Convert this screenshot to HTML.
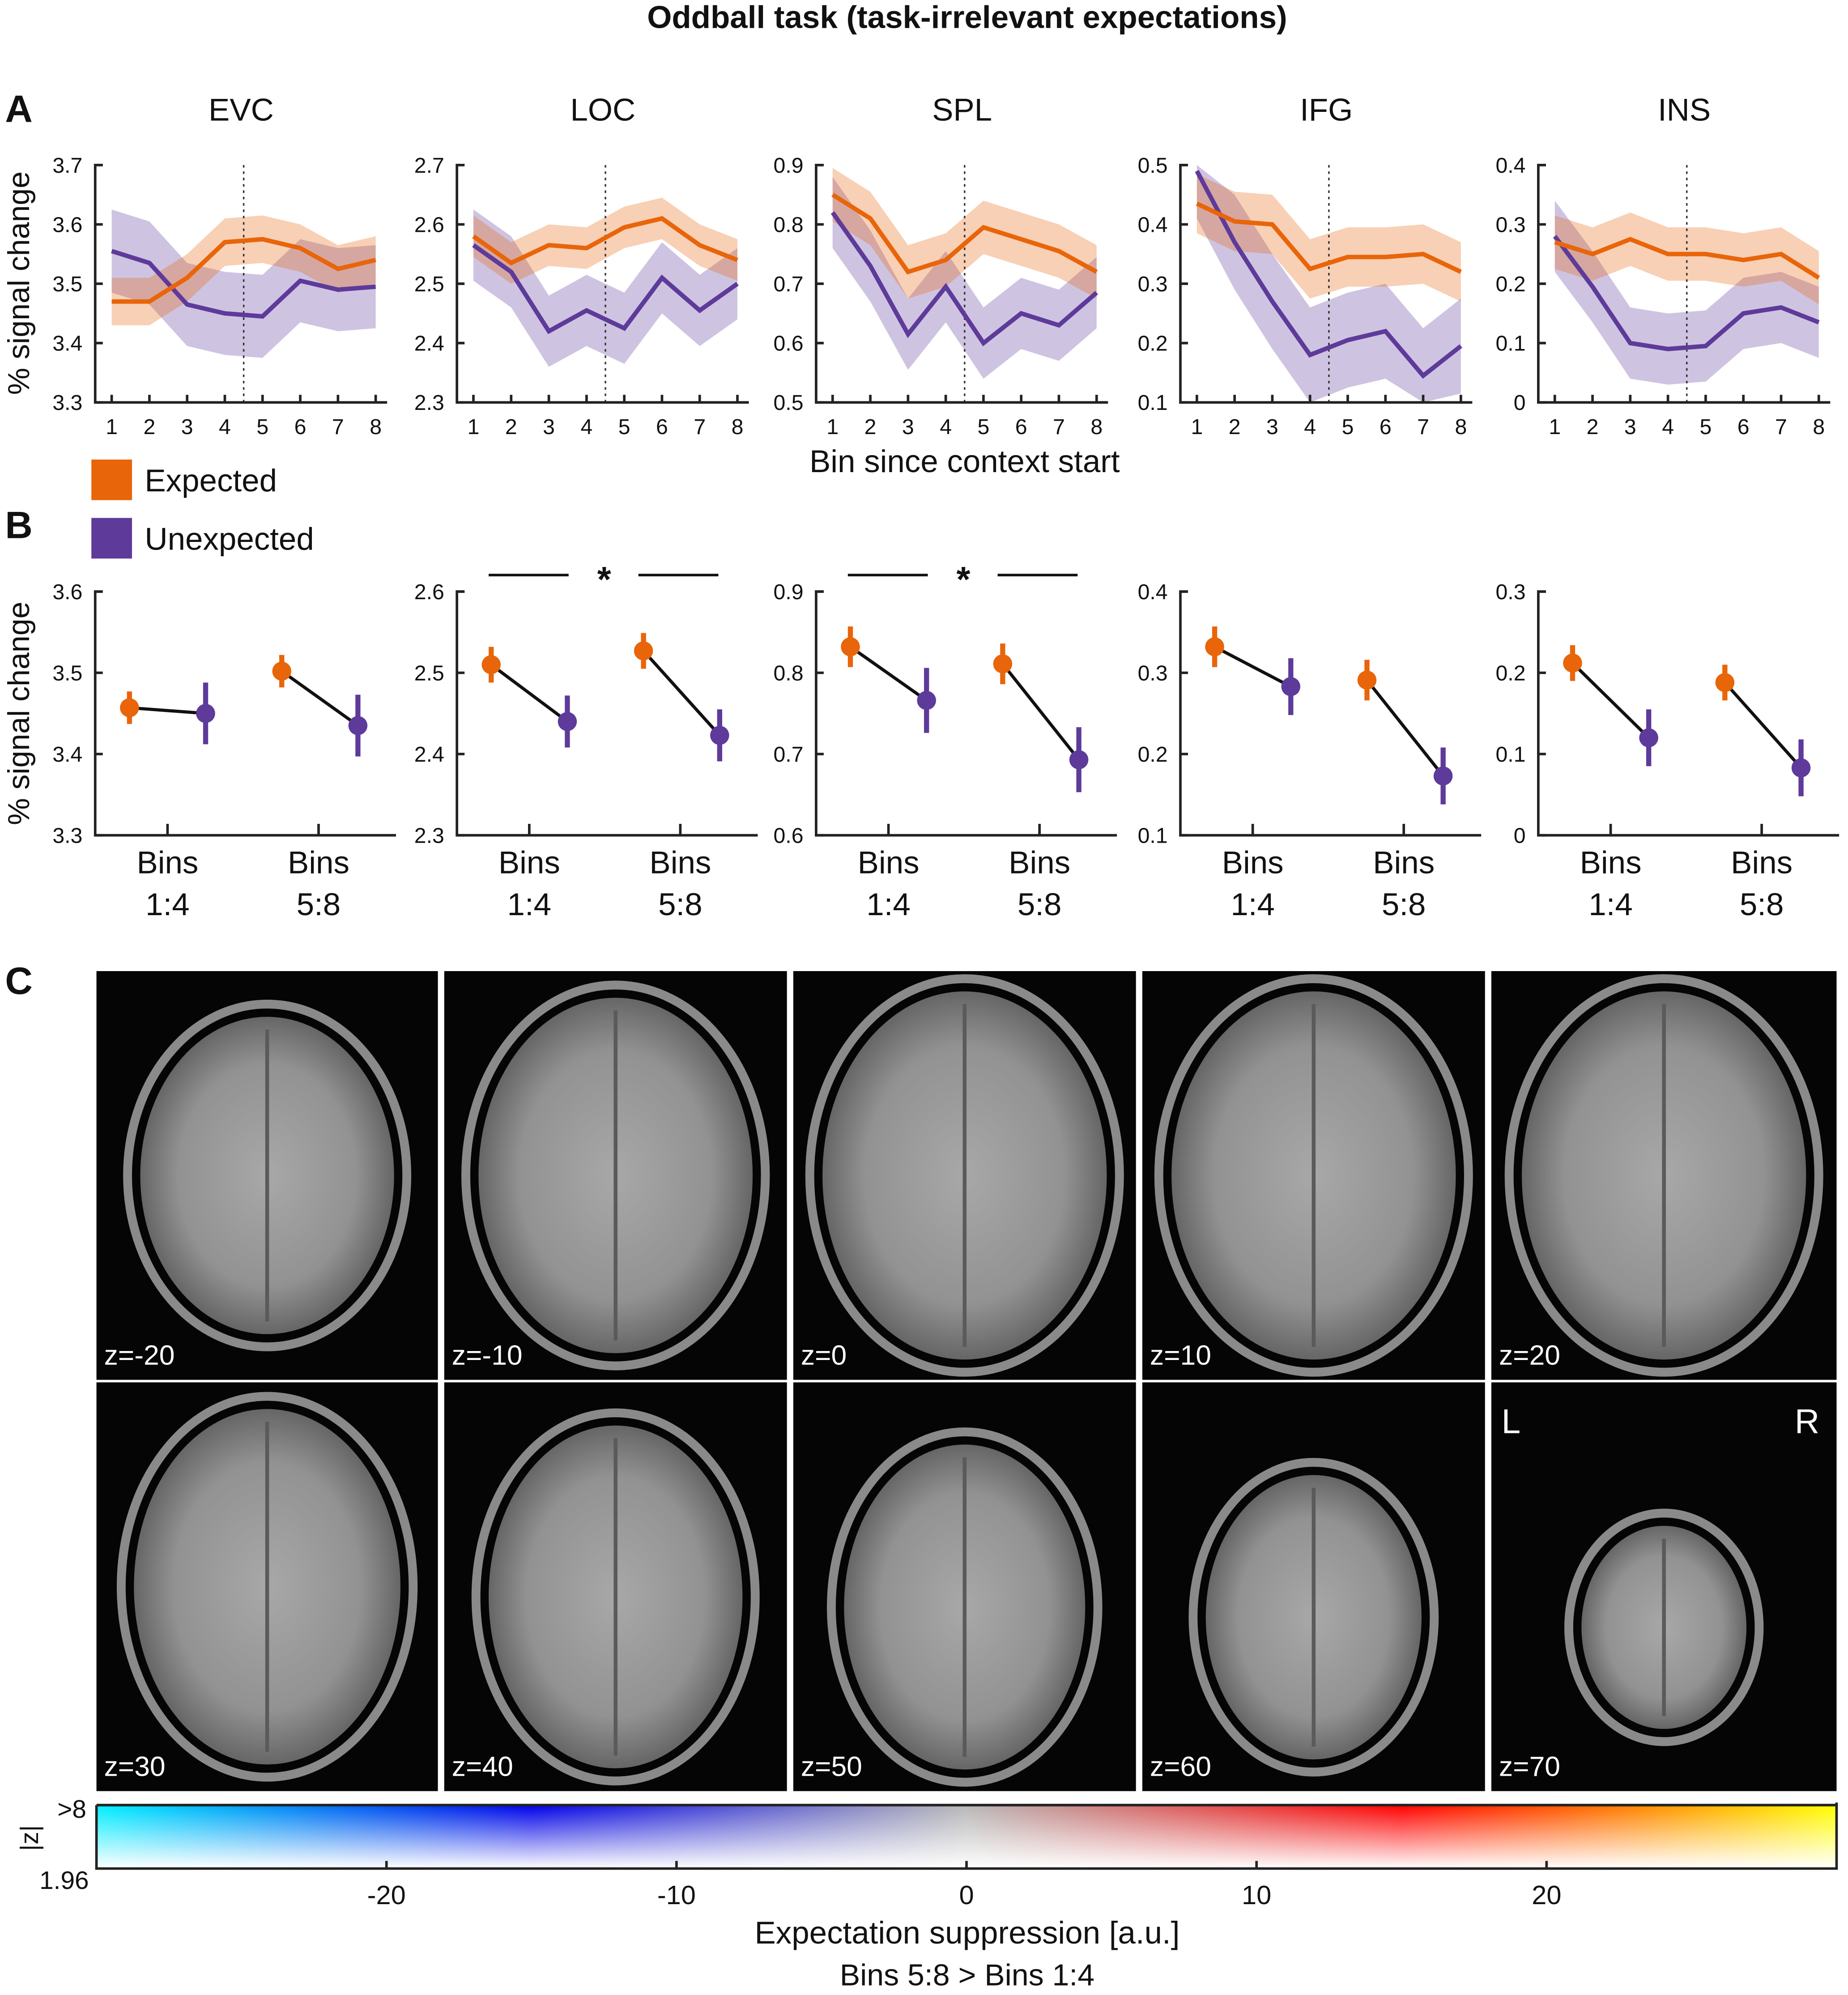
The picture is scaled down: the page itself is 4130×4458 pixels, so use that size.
<!DOCTYPE html>
<html><head><meta charset="utf-8">
<style>
html,body{margin:0;padding:0;background:#fff}
svg{display:block}
text{font-family:"Liberation Sans",Arial,sans-serif;fill:#111}
</style></head>
<body>
<svg id="fig" width="4130" height="4458" viewBox="0 0 1456 1571.6" xmlns="http://www.w3.org/2000/svg">
<defs>
<linearGradient id="cbH" x1="0" x2="1" y1="0" y2="0">
<stop offset="0" stop-color="#00f0ff"/>
<stop offset="0.25" stop-color="#0000e8"/>
<stop offset="0.5" stop-color="#b8b8b8"/>
<stop offset="0.75" stop-color="#ff0000"/>
<stop offset="0.88" stop-color="#ff8000"/>
<stop offset="1" stop-color="#ffff00"/>
</linearGradient>
<linearGradient id="cbV" x1="0" x2="0" y1="0" y2="1">
<stop offset="0" stop-color="#fff" stop-opacity="0"/>
<stop offset="1" stop-color="#fff" stop-opacity="1"/>
</linearGradient>
<radialGradient id="brainG" cx="0.5" cy="0.5" r="0.5">
<stop offset="0" stop-color="#a8a8a8"/>
<stop offset="0.7" stop-color="#929292"/>
<stop offset="1" stop-color="#666"/>
</radialGradient>
</defs>
<text x="762" y="22" text-anchor="middle" font-size="25" font-weight="bold">Oddball task (task-irrelevant expectations)</text>
<text x="4" y="96" font-size="30" font-weight="bold">A</text>
<text x="4" y="424" font-size="30" font-weight="bold">B</text>
<text x="4" y="783" font-size="30" font-weight="bold">C</text>
<text transform="translate(23,223) rotate(-90)" text-anchor="middle" font-size="24">% signal change</text>
<text transform="translate(23,562) rotate(-90)" text-anchor="middle" font-size="24">% signal change</text>
<text x="760" y="372" text-anchor="middle" font-size="25">Bin since context start</text>
<rect x="72" y="362" width="32" height="32" fill="#E8650A"/>
<text x="114" y="387" font-size="25">Expected</text>
<rect x="72" y="408" width="32" height="32" fill="#5E3A9A"/>
<text x="114" y="433" font-size="25">Unexpected</text>
<g id="gA"></g><g id="gB"></g><g id="gC"></g><g id="gCB"></g>
</svg>
<script>
const NS="http://www.w3.org/2000/svg";
const regions=["EVC","LOC","SPL","IFG","INS"];
const bins=[1,2,3,4,5,6,7,8];
const yMinA=[3.3,2.3,0.5,0.1,0];
const yTicksA=[["3.3","3.4","3.5","3.6","3.7"],["2.3","2.4","2.5","2.6","2.7"],["0.5","0.6","0.7","0.8","0.9"],["0.1","0.2","0.3","0.4","0.5"],["0","0.1","0.2","0.3","0.4"]];
const expMean=[[3.47,3.47,3.51,3.57,3.575,3.56,3.525,3.54],[2.58,2.535,2.565,2.56,2.595,2.61,2.565,2.54],[0.85,0.81,0.72,0.74,0.795,0.775,0.755,0.72],[0.435,0.405,0.4,0.325,0.345,0.345,0.35,0.32],[0.27,0.25,0.275,0.25,0.25,0.24,0.25,0.21]];
const unexpMean=[[3.555,3.535,3.465,3.45,3.445,3.505,3.49,3.495],[2.565,2.52,2.42,2.455,2.425,2.51,2.455,2.5],[0.82,0.73,0.615,0.695,0.6,0.65,0.63,0.685],[0.49,0.37,0.27,0.18,0.205,0.22,0.145,0.195],[0.28,0.195,0.1,0.09,0.095,0.15,0.16,0.135]];
const expSem=[0.04,0.035,0.045,0.05,0.045];
const unexpSem=[0.07,0.06,0.06,0.08,0.06];
const yMinB=[3.3,2.3,0.6,0.1,0];
const yTicksB=[["3.3","3.4","3.5","3.6"],["2.3","2.4","2.5","2.6"],["0.6","0.7","0.8","0.9"],["0.1","0.2","0.3","0.4"],["0","0.1","0.2","0.3"]];
const bExp1=[3.457,2.51,0.832,0.332,0.212];
const bUnexp1=[3.45,2.44,0.766,0.283,0.12];
const bExp2=[3.502,2.527,0.811,0.291,0.188];
const bUnexp2=[3.435,2.423,0.693,0.173,0.083];
const bExpErr=[0.02,0.022,0.025,0.025,0.022];
const bUnexpErr=[0.038,0.032,0.04,0.035,0.035];
const sigPanels=[1,2];
const sliceLabels=["z=-20","z=-10","z=0","z=10","z=20","z=30","z=40","z=50","z=60","z=70"];
const cbTicks=[-20,-10,0,10,20];

const axisX=[75,360,643,930,1212];
const ORANGE="#E8650A",PURPLE="#5E3A9A";
function mk(tag,attrs,parent){const e=document.createElementNS(NS,tag);for(const k in attrs)e.setAttribute(k,attrs[k]);parent.appendChild(e);return e;}
function txt(s,attrs,parent){const e=mk("text",attrs,parent);e.textContent=s;return e;}

const gA=document.getElementById("gA");
regions.forEach((r,p)=>{
  const ax=axisX[p],top=130,bot=317,right=ax+230;
  const xs=b=>ax+13+(b-1)*(208/7);
  const ys=v=>bot-(v-yMinA[p])/0.4*(bot-top);
  const g=mk("g",{},gA);
  
  
  const t=txt(r,{x:ax+115,y:95,"text-anchor":"middle","font-size":25},g);
  
  
  // bands
  [[unexpMean[p],unexpSem[p],PURPLE,0.3],[expMean[p],expSem[p],ORANGE,0.3]].forEach(([m,s,c,o],i)=>{
    let up=bins.map((b,j)=>xs(b)+","+Math.max(top,ys(m[j]+s))).join(" ");
    let dn=bins.slice().reverse().map((b,j)=>{const k=7-j;return xs(b)+","+Math.min(bot,ys(m[k]-s));}).join(" ");
    const band=mk("polygon",{points:up+" "+dn,fill:c,"fill-opacity":o},g);
    
    
  });
  const dl=mk("line",{x1:xs(4.5),x2:xs(4.5),y1:top,y2:bot,stroke:"#333","stroke-width":1.2,"stroke-dasharray":"2,3"},g);
  
  
  [[unexpMean[p],PURPLE,'unexpected-line'],[expMean[p],ORANGE,'expected-line']].forEach(([m,c,n])=>{
    const l=mk("polyline",{points:bins.map((b,j)=>xs(b)+","+ys(m[j])).join(" "),fill:"none",stroke:c,"stroke-width":3.5},g);
    
    
  });
  const axl=mk("path",{d:`M${ax+6},${top}H${ax}V${bot}H${right}`,fill:"none",stroke:"#222","stroke-width":2},g);
  
  
  yTicksA[p].forEach((s,i)=>{
    const y=bot-i*(bot-top)/4;
    mk("line",{x1:ax,x2:ax+6,y1:y,y2:y,stroke:"#222","stroke-width":2},g);
    const tl=txt(s,{x:ax-10,y:y+6,"text-anchor":"end","font-size":17},g);
    
    
  });
  bins.forEach(b=>{
    mk("line",{x1:xs(b),x2:xs(b),y1:bot,y2:bot-6,stroke:"#222","stroke-width":2},g);
    const tl=txt(String(b),{x:xs(b),y:bot+25,"text-anchor":"middle","font-size":17},g);
    
    
  });
});

const gB=document.getElementById("gB");
regions.forEach((r,p)=>{
  const ax=axisX[p],top=466,bot=658,right=ax+237;
  const ys=v=>bot-(v-yMinB[p])/0.3*(bot-top);
  const g=mk("g",{},gB);
  
  
  const axl=mk("path",{d:`M${ax+6},${top}H${ax}V${bot}H${right}`,fill:"none",stroke:"#222","stroke-width":2},g);
  
  
  yTicksB[p].forEach((s,i)=>{
    const y=bot-i*(bot-top)/3;
    mk("line",{x1:ax,x2:ax+6,y1:y,y2:y,stroke:"#222","stroke-width":2},g);
    const tl=txt(s,{x:ax-10,y:y+6,"text-anchor":"end","font-size":17},g);
    
    
  });
  [[ax+57,"1:4"],[ax+176,"5:8"]].forEach(([x,s])=>{
    mk("line",{x1:x,x2:x,y1:bot,y2:bot-9,stroke:"#222","stroke-width":2},g);
    const t1=txt("Bins",{x:x,y:bot+30,"text-anchor":"middle","font-size":25},g);
    
    
    const t2=txt(s,{x:x,y:bot+63,"text-anchor":"middle","font-size":25},g);
    
    
  });
  const px=[ax+27,ax+87,ax+147,ax+207];
  const vals=[bExp1[p],bUnexp1[p],bExp2[p],bUnexp2[p]];
  const errs=[bExpErr[p],bUnexpErr[p],bExpErr[p],bUnexpErr[p]];
  [[0,1],[2,3]].forEach(([a,b])=>{
    const l=mk("line",{x1:px[a],y1:ys(vals[a]),x2:px[b],y2:ys(vals[b]),stroke:"#111","stroke-width":2.5},g);
    
    
  });
  px.forEach((x,i)=>{
    const c=i%2?PURPLE:ORANGE;
    const e=mk("line",{x1:x,x2:x,y1:ys(vals[i]+errs[i]),y2:ys(vals[i]-errs[i]),stroke:c,"stroke-width":4},g);
    
    
    const d=mk("circle",{cx:x,cy:ys(vals[i]),r:7.5,fill:c},g);
    
    
  });
  if(sigPanels.includes(p)){
    const s1=mk("line",{x1:ax+25,x2:ax+88,y1:453,y2:453,stroke:"#111","stroke-width":2},g);
    
    
    const s2=mk("line",{x1:ax+143,x2:ax+206,y1:453,y2:453,stroke:"#111","stroke-width":2},g);
    
    
    const st=txt("*",{x:ax+116,y:466,"text-anchor":"middle","font-size":28,"font-weight":"bold"},g);
    
    
  }
});

const gC=document.getElementById("gC");
const colX=[76,350,625,900,1175],colW=[269,270,270,270,272];
const rowY=[765,1089],rowH=322;
const brainSize=[[100,125],[108,140],[112,145],[112,145],[112,145],[105,140],[100,135],[95,128],[85,112],[65,80]];
sliceLabels.forEach((s,i)=>{
  const c=i%5,rw=Math.floor(i/5);
  const x=colX[c],y=rowY[rw],w=colW[c];
  const g=mk("g",{},gC);
  
  
  mk("rect",{x:x,y:y,width:w,height:rowH,fill:"#050505"},g);
  const cx=x+w/2,cy=y+rowH/2+(rw?40*(i-5)/5:0);
  const [rx,ry]=brainSize[i];
  mk("ellipse",{cx:cx,cy:cy,rx:rx+10,ry:ry+10,fill:"none",stroke:"#8a8a8a","stroke-width":7},g);
  mk("ellipse",{cx:cx,cy:cy,rx:rx,ry:ry,fill:"url(#brainG)"},g);
  mk("line",{x1:cx,x2:cx,y1:cy-ry+10,y2:cy+ry-10,stroke:"#5a5a5a","stroke-width":3},g);
  const t=txt(s,{x:x+6,y:y+rowH-12,"font-size":22,fill:"#fff",style:"fill:#fff"},g);
  
  
});
const tL=txt("L",{x:1183,y:1129,"font-size":27,style:"fill:#fff"},gC);


const tR=txt("R",{x:1414,y:1129,"font-size":27,style:"fill:#fff"},gC);



const gCB=document.getElementById("gCB");
const cbL=76,cbR=1447,cbT=1422,cbB=1472;
const cs=v=>cbL+(v+30)/60*(cbR-cbL);
const bar=mk("rect",{x:cbL,y:cbT,width:cbR-cbL,height:cbB-cbT,fill:"url(#cbH)"},gCB);


mk("rect",{x:cbL,y:cbT,width:cbR-cbL,height:cbB-cbT,fill:"url(#cbV)"},gCB);
mk("path",{d:`M${cbL},${cbT}H${cbR}M${cbL},${cbT}V${cbB}H${cbR}V${cbT-2}`,fill:"none",stroke:"#222","stroke-width":2},gCB);
cbTicks.forEach(v=>{
  mk("line",{x1:cs(v),x2:cs(v),y1:cbB,y2:cbB-6,stroke:"#222","stroke-width":2},gCB);
  const t=txt(String(v),{x:cs(v),y:1500,"text-anchor":"middle","font-size":21},gCB);
  
  
});
const z1=txt(">8",{x:68,y:1432,"text-anchor":"end","font-size":20},gCB);


const z2=txt("1.96",{x:70,y:1488,"text-anchor":"end","font-size":20},gCB);


const z3=txt("|z|",{transform:"translate(30,1448) rotate(-90)","text-anchor":"middle","font-size":20},gCB);


const ct1=txt("Expectation suppression [a.u.]",{x:762,y:1531,"text-anchor":"middle","font-size":25},gCB);


const ct2=txt("Bins 5:8 > Bins 1:4",{x:762,y:1564,"text-anchor":"middle","font-size":24},gCB);


</script>
</body></html>
